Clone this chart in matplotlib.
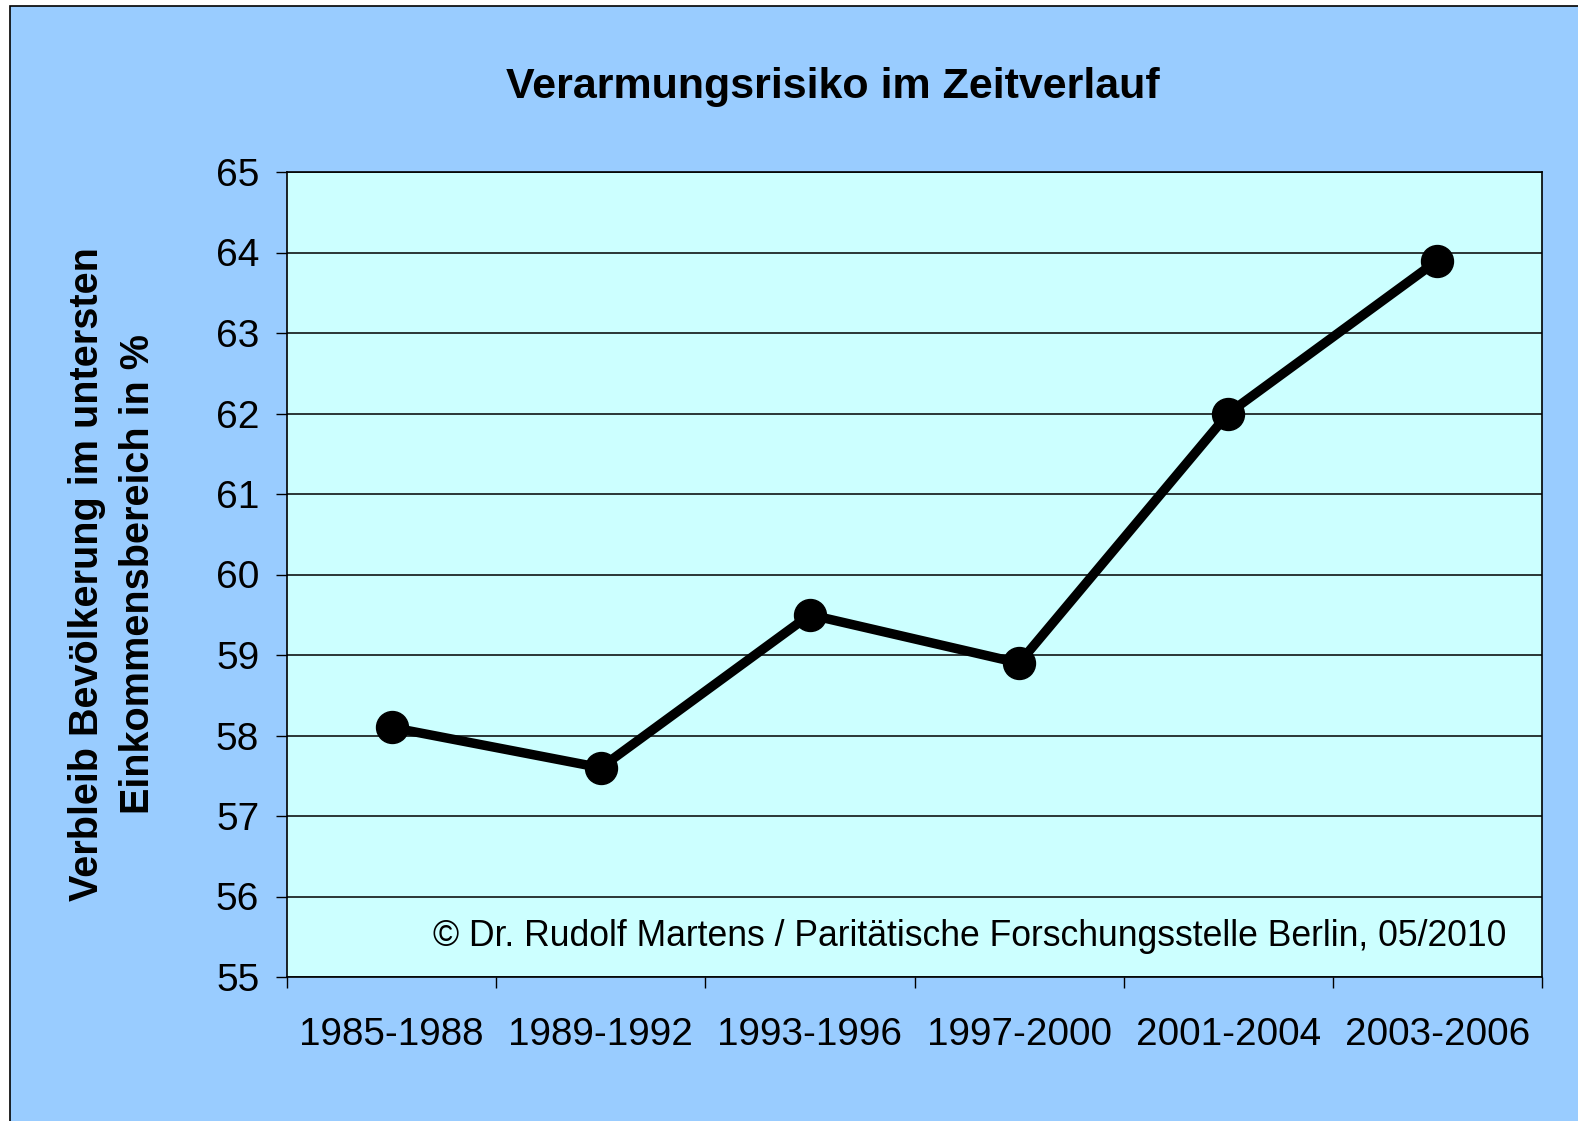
import matplotlib
matplotlib.use("Agg")
import matplotlib.pyplot as plt
from matplotlib.patches import Rectangle

plt.rcParams["font.family"] = ["Liberation Sans", "DejaVu Sans"]

periods = ["1985-1988", "1989-1992", "1993-1996", "1997-2000", "2001-2004", "2003-2006"]
values = [58.1, 57.6, 59.5, 58.9, 62.0, 63.9]
y_ticks = [55, 56, 57, 58, 59, 60, 61, 62, 63, 64, 65]

W, H = 1578, 1121
fig = plt.figure(figsize=(W / 100, H / 100), dpi=100, facecolor="white")
fig.patches.append(Rectangle((10 / W, -0.01), 1.02, 1 - 6 / H + 0.01,
                             transform=fig.transFigure, facecolor="#99CCFF",
                             edgecolor="black", linewidth=1.2, zorder=-10))

ax = fig.add_axes([287 / W, 1 - 977 / H, (1542 - 287) / W, (977 - 172) / H])
ax.set_facecolor("#CCFFFF")
x = list(range(len(periods)))
ax.plot(x, values, color="black", linewidth=6.8, marker="o", markersize=23,
        solid_joinstyle="round", zorder=3)

ax.set_xlim(-0.5, len(periods) - 0.5)
ax.set_ylim(55, 65)
ax.set_yticks(y_ticks)
ax.yaxis.grid(True, color="black", linewidth=1.1)
ax.set_axisbelow(True)
ax.tick_params(axis="y", direction="out", length=8, width=1, labelsize=28, pad=12)
ax.set_xticks(x)
ax.set_xticklabels(periods)
ax.tick_params(axis="x", which="major", length=0, labelsize=27.8, pad=29)
ax.set_xticks([i - 0.5 for i in range(len(periods) + 1)], minor=True)
ax.tick_params(axis="x", which="minor", direction="out", length=8, width=1)
for s in ax.spines.values():
    s.set_color("black")
    s.set_linewidth(1.2)

ax.set_ylabel("Verbleib Bevölkerung im untersten\nEinkommensbereich in %",
              fontsize=28.5, fontweight="bold", labelpad=42, linespacing=1.45)

fig.text(833 / W, 1 - 87 / H, "Verarmungsrisiko im Zeitverlauf",
         fontsize=31, fontweight="bold", ha="center", va="center")
ax.text(0.9716, 0.05, "© Dr. Rudolf Martens / Paritätische Forschungsstelle Berlin, 05/2010",
        transform=ax.transAxes, fontsize=25.6, ha="right", va="center")

fig.savefig("out.png", dpi=100, facecolor=fig.get_facecolor())
